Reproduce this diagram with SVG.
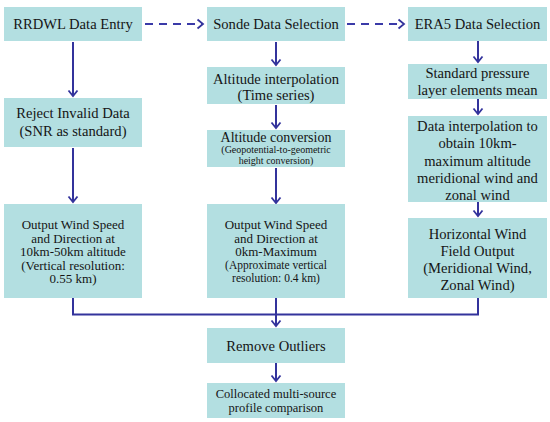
<svg xmlns="http://www.w3.org/2000/svg" width="550" height="422" viewBox="0 0 550 422">
<defs>
<marker id="chev" viewBox="-7 -6 9 12" refX="0" refY="0" markerWidth="9" markerHeight="12" markerUnits="userSpaceOnUse" orient="auto">
<path d="M-5.5,-4.5 L0,0 L-5.5,4.5" fill="none" stroke="#33339c" stroke-width="1.8" stroke-linejoin="miter"/>
</marker>
</defs>
<style>
.box{fill:#b3dfe1}
text{font-family:"Liberation Serif","Times New Roman",serif;fill:#151515;text-anchor:middle}
.t15{font-size:14.6px}
.t13{font-size:13px}
.t12{font-size:11.5px}
.t10{font-size:10px}
.ln{stroke:#33339c;stroke-width:2;fill:none}
.dash{stroke:#3a3aa8;stroke-width:2;fill:none;stroke-dasharray:8 6}
</style>
<g id="connectors">
<line class="dash" x1="145" y1="24" x2="203" y2="24" marker-end="url(#chev)"/>
<line class="dash" x1="347" y1="24" x2="404" y2="24" marker-end="url(#chev)"/>
<line class="ln" x1="73" y1="42" x2="73" y2="96" marker-end="url(#chev)"/>
<line class="ln" x1="73" y1="148" x2="73" y2="202" marker-end="url(#chev)"/>
<line class="ln" x1="276" y1="42" x2="276" y2="65" marker-end="url(#chev)"/>
<line class="ln" x1="276" y1="105" x2="276" y2="128" marker-end="url(#chev)"/>
<line class="ln" x1="276" y1="168" x2="276" y2="203" marker-end="url(#chev)"/>
<line class="ln" x1="478" y1="41" x2="478" y2="62" marker-end="url(#chev)"/>
<line class="ln" x1="478" y1="99" x2="478" y2="114" marker-end="url(#chev)"/>
<line class="ln" x1="478" y1="202" x2="478" y2="216" marker-end="url(#chev)"/>
<path class="ln" d="M73,298 V314.5 H478 V298"/>
<line class="ln" x1="276" y1="298" x2="276" y2="326" marker-end="url(#chev)"/>
<line class="ln" x1="276" y1="363" x2="276" y2="381" marker-end="url(#chev)"/>
</g>
<g id="rrdwl">
<rect class="box" x="4" y="7" width="138" height="34"/>
<text class="t15" x="73" y="29">RRDWL Data Entry</text>
</g>
<g id="sonde">
<rect class="box" x="207" y="7" width="138" height="34"/>
<text class="t15" x="276" y="29">Sonde Data Selection</text>
</g>
<g id="era5">
<rect class="box" x="408" y="7" width="139" height="34"/>
<text class="t15" x="477.5" y="29">ERA5 Data Selection</text>
</g>
<g id="reject">
<rect class="box" x="4" y="98" width="138" height="49"/>
<text class="t15" x="73" y="118">Reject Invalid Data</text>
<text class="t15" x="73" y="136">(SNR as standard)</text>
</g>
<g id="output1">
<rect class="box" x="4" y="204" width="138" height="94"/>
<text class="t13" x="73" y="229">Output Wind Speed</text>
<text class="t13" x="73" y="242.5">and Direction at</text>
<text class="t13" x="73" y="256">10km-50km altitude</text>
<text class="t13" x="73" y="269.5">(Vertical resolution:</text>
<text class="t13" x="73" y="283">0.55 km)</text>
</g>
<g id="altinterp">
<rect class="box" x="207" y="67" width="138" height="37"/>
<text class="t15" x="276" y="84">Altitude interpolation</text>
<text class="t15" x="276" y="100">(Time series)</text>
</g>
<g id="altconv">
<rect class="box" x="207" y="130" width="138" height="37"/>
<text class="t13" x="276" y="141.5" style="font-size:14px">Altitude conversion</text>
<text class="t10" x="276" y="153">(Geopotential-to-geometric</text>
<text class="t10" x="276" y="163.5">height conversion)</text>
</g>
<g id="output2">
<rect class="box" x="207" y="204" width="138" height="94"/>
<text class="t13" x="276" y="229">Output Wind Speed</text>
<text class="t13" x="276" y="242.5">and Direction at</text>
<text class="t13" x="276" y="256">0km-Maximum</text>
<text class="t12" x="276" y="269">(Approximate vertical</text>
<text class="t12" x="276" y="282">resolution: 0.4 km)</text>
</g>
<g id="standard">
<rect class="box" x="408" y="64" width="139" height="35"/>
<text class="t15" x="477.5" y="78">Standard pressure</text>
<text class="t15" x="477.5" y="95">layer elements mean</text>
</g>
<g id="datainterp">
<rect class="box" x="408" y="116" width="139" height="86"/>
<text class="t15" x="477.5" y="131">Data interpolation to</text>
<text class="t15" x="477.5" y="148">obtain 10km-</text>
<text class="t15" x="477.5" y="165.5">maximum altitude</text>
<text class="t15" x="477.5" y="182.5">meridional wind and</text>
<text class="t15" x="477.5" y="199.5">zonal wind</text>
</g>
<g id="horizontal">
<rect class="box" x="408" y="218" width="139" height="80"/>
<text class="t15" x="477.5" y="239">Horizontal Wind</text>
<text class="t15" x="477.5" y="256">Field Output</text>
<text class="t15" x="477.5" y="273">(Meridional Wind,</text>
<text class="t15" x="477.5" y="290">Zonal Wind)</text>
</g>
<g id="remove">
<rect class="box" x="207" y="328" width="138" height="35"/>
<text class="t15" x="276" y="350.5">Remove Outliers</text>
</g>
<g id="collocated">
<rect class="box" x="207" y="383" width="138" height="35"/>
<text class="t12" x="276" y="397.5" style="font-size:12.5px">Collocated multi-source</text>
<text class="t12" x="276" y="411.5" style="font-size:12.5px">profile comparison</text>
</g>
</svg>
